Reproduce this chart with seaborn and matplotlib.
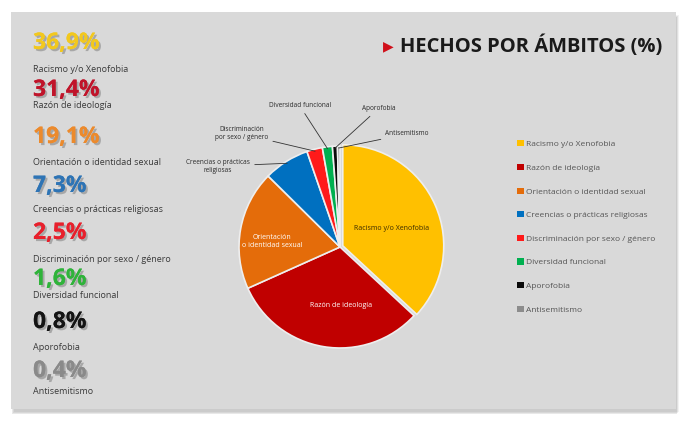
import matplotlib
matplotlib.use("Agg")
import matplotlib.pyplot as plt
import matplotlib.patches as mpatches
import matplotlib.patheffects as pe
import numpy as np
import seaborn as sns

# --- Data ---
categories = [
    "Racismo y/o Xenofobia",
    "Razón de ideología",
    "Orientación o identidad sexual",
    "Creencias o prácticas religiosas",
    "Discriminación por sexo / género",
    "Diversidad funcional",
    "Aporofobia",
    "Antisemitismo",
]
shares = [36.9, 31.4, 19.1, 7.3, 2.5, 1.6, 0.8, 0.4]
share_labels = ["36,9%", "31,4%", "19,1%", "7,3%", "2,5%", "1,6%", "0,8%", "0,4%"]
pie_colors = ["#ffc000", "#c00000", "#e46c0a", "#0070c0",
              "#ff1a1a", "#00b050", "#0a0a0a", "#8c8c8c"]
number_colors = ["#f2c81e", "#c0142a", "#ec8a2c", "#2e74b5",
                 "#e8202c", "#2fb33a", "#141414", "#8a8a8a"]
inside_labels = {0: "Racismo y/o Xenofobia", 1: "Razón de ideología",
                 2: "Orientación\no identidad sexual"}
outside_labels = {3: "Creencias o prácticas\nreligiosas",
                  4: "Discriminación\npor sexo / género",
                  5: "Diversidad funcional",
                  6: "Aporofobia",
                  7: "Antisemitismo"}

sns.set_style("white")
plt.rcParams["font.family"] = ["Open Sans", "DejaVu Sans"]

W, H = 688, 422
fig = plt.figure(figsize=(W / 100, H / 100), dpi=100, facecolor="white")

# grey card with soft shadow
for i, a in enumerate([0.05, 0.07, 0.09]):
    fig.patches.append(mpatches.Rectangle(
        ((11 + 3 - i) / W, (13 - 3 - i) / H), 665 / W, 397 / H,
        transform=fig.transFigure, facecolor="black", alpha=a, edgecolor="none", zorder=0))
fig.patches.append(mpatches.Rectangle(
    (11 / W, 13 / H), 665 / W, 397 / H, transform=fig.transFigure,
    facecolor="#d9d9d9", edgecolor="none", zorder=1))

# --- left column of big numbers ---
shadow = [pe.withSimplePatchShadow(offset=(1.5, -1.5), shadow_rgbFace="#777777", alpha=0.5),
          pe.Normal()]
num_y = [43, 90, 137, 186, 233, 279, 322, 371]
lab_y = [69, 106, 162, 210, 259, 295, 347, 392]
for k in range(len(categories)):
    fig.text(33 / W, 1 - num_y[k] / H, share_labels[k], fontsize=16.5, fontweight="bold",
             color=number_colors[k], ha="left", va="center", path_effects=shadow, zorder=3)
    fig.text(33 / W, 1 - lab_y[k] / H, categories[k], fontsize=6.5,
             color="#3a3a3a", ha="left", va="center", zorder=3)

# --- title ---
fig.text(383 / W, 1 - 46 / H, "▶", fontsize=10, color="#d0101a", ha="left", va="center",
         family=["DejaVu Sans"], zorder=3)
fig.text(400 / W, 1 - 46 / H, "HECHOS POR ÁMBITOS (%)", fontsize=14.5, fontweight="bold",
         color="#1a1a1a", ha="left", va="center", zorder=3)

# --- pie ---
R = 101
ext = 1.7
ax = fig.add_axes([(340 - R * ext) / W, (422 - 247 - R * ext) / H,
                   2 * R * ext / W, 2 * R * ext / H])
ax.set_zorder(2)
ax.patch.set_alpha(0)
wedges, _ = ax.pie(shares, colors=pie_colors, startangle=90, counterclock=False,
                   explode=[0.03, 0, 0, 0, 0, 0, 0, 0],
                   wedgeprops=dict(edgecolor="#eeeeee", linewidth=1.2))
ax.set_xlim(-ext, ext)
ax.set_ylim(-ext, ext)
ax.set_aspect("equal")
ax.axis("off")

# inside labels: radius along wedge middle, plus small nudge
inside_pos = {0: (0.45, 0.1, 0.0), 1: (0.58, 0.1, -0.01), 2: (0.68, 0.0, -0.07)}
for k, txt in inside_labels.items():
    w = wedges[k]
    mid = np.deg2rad((w.theta1 + w.theta2) / 2)
    r, dx, dy = inside_pos[k]
    ax.text(r * np.cos(mid) + dx, r * np.sin(mid) + dy, txt,
            ha="center", va="center", fontsize=5, multialignment="center",
            color="#3a2a00" if k == 0 else "white")

# outside labels with leader lines: (text x, text y, ha) in data units
out_pos = {3: (-0.89, 0.80, "right"), 4: (-0.71, 1.12, "right"),
           5: (-0.40, 1.40, "center"), 6: (0.38, 1.37, "center"),
           7: (0.45, 1.12, "left")}
for k, txt in outside_labels.items():
    w = wedges[k]
    mid = np.deg2rad((w.theta1 + w.theta2) / 2)
    px, py = np.cos(mid) * 0.98, np.sin(mid) * 0.98
    tx, ty, ha = out_pos[k]
    ax.annotate(txt, xy=(px, py), xytext=(tx, ty), ha=ha, va="center", fontsize=4.7,
                color="#2a2a2a", multialignment="center",
                arrowprops=dict(arrowstyle="-", color="#333333", lw=0.6,
                                shrinkA=1, shrinkB=0))

# --- legend ---
handles = [mpatches.Patch(facecolor=c, edgecolor="none") for c in pie_colors]
leg = fig.legend(handles, categories, loc="upper left",
                 bbox_to_anchor=(514 / W, 1 - 137 / H), frameon=False,
                 fontsize=6, handlelength=0.75, handleheight=0.75,
                 handletextpad=0.3, labelspacing=1.88, borderaxespad=0)
for t in leg.get_texts():
    t.set_color("#555555")

fig.savefig("out.png", dpi=100, facecolor="white")
